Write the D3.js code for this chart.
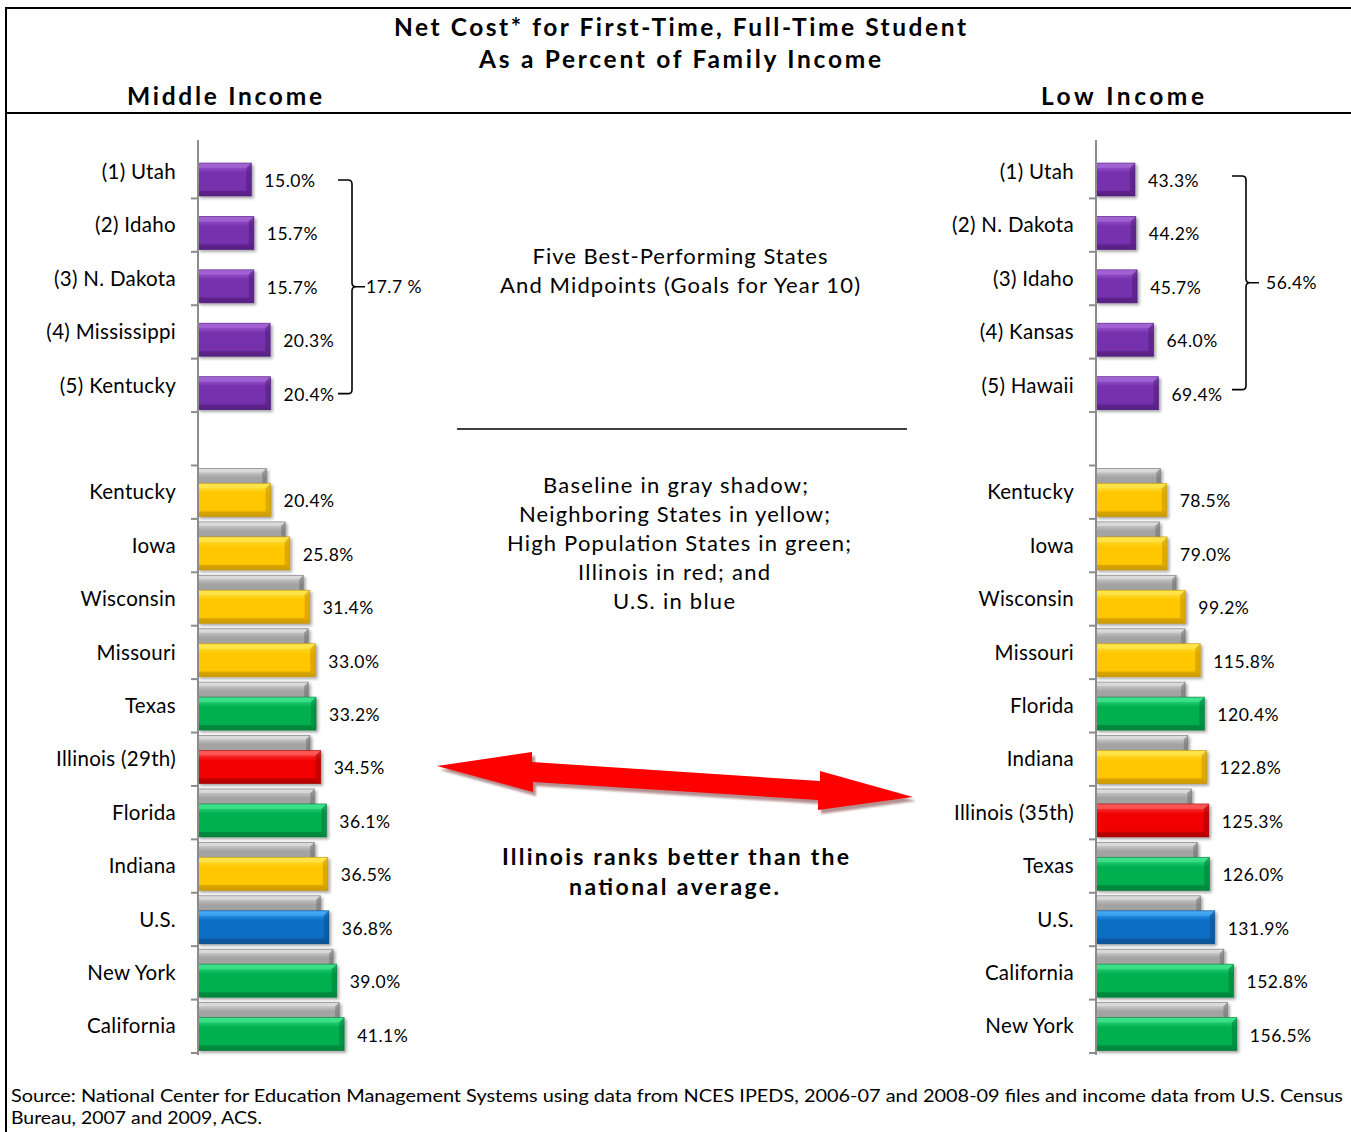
<!DOCTYPE html>
<html>
<head>
<meta charset="utf-8">
<script src="https://cdn.jsdelivr.net/npm/d3@7"></script>
<style>
  html, body { margin: 0; padding: 0; background: #fff; }
  svg { display: block; }
  text { font-family: Lato, "Open Sans", sans-serif; fill: #000; }
</style>
</head>
<body>
<script>
// ---------------- DATA ----------------
const titleLines = ["Net Cost* for First-Time, Full-Time Student", "As a Percent of Family Income"];
const panelTitles = ["Middle Income", "Low Income"];

// Middle income
const midTopStates = ["(1) Utah", "(2) Idaho", "(3) N. Dakota", "(4) Mississippi", "(5) Kentucky"];
const midTopValues = [15.0, 15.7, 15.7, 20.3, 20.4];
const midTopMidpoint = 17.7;
const midStates = ["Kentucky", "Iowa", "Wisconsin", "Missouri", "Texas", "Illinois (29th)", "Florida", "Indiana", "U.S.", "New York", "California"];
const midValues = [20.4, 25.8, 31.4, 33.0, 33.2, 34.5, 36.1, 36.5, 36.8, 39.0, 41.1];
const midBaseline = [19.2, 24.5, 29.6, 31.0, 31.0, 31.5, 32.7, 32.7, 34.4, 38.0, 39.7];
const midGroups = ["neighbor", "neighbor", "neighbor", "neighbor", "highpop", "illinois", "highpop", "neighbor", "us", "highpop", "highpop"];

// Low income
const lowTopStates = ["(1) Utah", "(2) N. Dakota", "(3) Idaho", "(4) Kansas", "(5) Hawaii"];
const lowTopValues = [43.3, 44.2, 45.7, 64.0, 69.4];
const lowTopMidpoint = 56.4;
const lowStates = ["Kentucky", "Iowa", "Wisconsin", "Missouri", "Florida", "Indiana", "Illinois (35th)", "Texas", "U.S.", "California", "New York"];
const lowValues = [78.5, 79.0, 99.2, 115.8, 120.4, 122.8, 125.3, 126.0, 131.9, 152.8, 156.5];
const lowBaseline = [71.5, 70.4, 89.0, 99.0, 99.0, 102.0, 106.0, 112.5, 116.0, 142.0, 146.0];
const lowGroups = ["neighbor", "neighbor", "neighbor", "neighbor", "highpop", "neighbor", "illinois", "highpop", "us", "highpop", "highpop"];

const noteTop = ["Five Best-Performing States", "And Midpoints (Goals for Year 10)"];
const noteLegend = ["Baseline in gray shadow;", "Neighboring States in yellow;", "High Population States in green;", "Illinois in red; and", "U.S. in blue"];
const noteIllinois = ["Illinois ranks better than the", "national average."];
const sourceLines = ["Source:  National Center for Education Management Systems using data from NCES IPEDS, 2006-07 and 2008-09 files and income data from U.S. Census", "Bureau, 2007 and 2009, ACS."];

// ---------------- STYLE ----------------
const palette = {
  best:     { base: "#7630ad", light: "#a465d6", dark: "#4c1a73" },
  neighbor: { base: "#ffc700", light: "#ffe64d", dark: "#c08e00" },
  highpop:  { base: "#00b050", light: "#3fe38c", dark: "#007535" },
  illinois: { base: "#f00000", light: "#ff5a5a", dark: "#9c0000" },
  us:       { base: "#0a6ec6", light: "#45a8f2", dark: "#054785" },
  base:     { base: "#a3a3a3", light: "#dcdcdc", dark: "#6a6a6a" }
};

const W = 1351, H = 1132;
const svg = d3.select("body").append("svg").attr("width", W).attr("height", H);
const defs = svg.append("defs");

const f = defs.append("filter").attr("id", "shadow").attr("x", "-10%").attr("y", "-20%").attr("width", "130%").attr("height", "160%");
f.append("feDropShadow").attr("dx", 2).attr("dy", 2).attr("stdDeviation", 1.5).attr("flood-color", "#000").attr("flood-opacity", 0.35);
const f2 = defs.append("filter").attr("id", "arrowShadow").attr("x", "-10%").attr("y", "-50%").attr("width", "130%").attr("height", "250%");
f2.append("feGaussianBlur").attr("stdDeviation", 1.2);

Object.entries(palette).forEach(([k, c]) => {
  const g = defs.append("linearGradient").attr("id", "grad-" + k).attr("x1", 0).attr("y1", 0).attr("x2", 0).attr("y2", 1);
  g.append("stop").attr("offset", "0%").attr("stop-color", c.light);
  g.append("stop").attr("offset", "30%").attr("stop-color", c.base);
  g.append("stop").attr("offset", "80%").attr("stop-color", c.base);
  g.append("stop").attr("offset", "100%").attr("stop-color", d3.color(c.base).darker(0.4));
});

// ---------------- FRAME ----------------
svg.append("rect").attr("x", 6).attr("y", 8).attr("width", W + 10).attr("height", H + 10)
  .attr("fill", "none").attr("stroke", "#000").attr("stroke-width", 2);
svg.append("line").attr("x1", 6).attr("x2", W).attr("y1", 113).attr("y2", 113)
  .attr("stroke", "#000").attr("stroke-width", 2);

// Titles
svg.append("text").attr("x", 680).attr("y", 36).attr("text-anchor", "middle")
  .attr("font-weight", "bold").attr("font-size", 24.5).attr("textLength", 572).attr("lengthAdjust", "spacing").text(titleLines[0]);
svg.append("text").attr("x", 680).attr("y", 68).attr("text-anchor", "middle")
  .attr("font-weight", "bold").attr("font-size", 24.5).attr("textLength", 402).attr("lengthAdjust", "spacing").text(titleLines[1]);
svg.append("text").attr("x", 224.5).attr("y", 105).attr("text-anchor", "middle")
  .attr("font-weight", "bold").attr("font-size", 24.5).attr("textLength", 195).attr("lengthAdjust", "spacing").text(panelTitles[0]);
svg.append("text").attr("x", 1122.5).attr("y", 105).attr("text-anchor", "middle")
  .attr("font-weight", "bold").attr("font-size", 24.5).attr("textLength", 163).attr("lengthAdjust", "spacing").text(panelTitles[1]);

// ---------------- PANELS ----------------
function bevelBar(g, x0, x1, y, h, key, b) {
  const c = palette[key];
  const w = x1 - x0;
  if (w <= 0) return;
  const grp = g.append("g").attr("filter", "url(#shadow)");
  grp.append("rect").attr("x", x0).attr("y", y).attr("width", w).attr("height", h)
    .attr("fill", "url(#grad-" + key + ")");
  grp.append("path").attr("d", `M${x0},${y}L${x1},${y}L${x1 - b},${y + b}L${x0},${y + b}Z`)
    .attr("fill", c.light).attr("opacity", 0.75);
  grp.append("path").attr("d", `M${x0},${y + h - b}L${x1 - b},${y + h - b}L${x1},${y + h}L${x0},${y + h}Z`)
    .attr("fill", c.dark).attr("opacity", 0.55);
  grp.append("path").attr("d", `M${x1 - b},${y + b}L${x1},${y}L${x1},${y + h}L${x1 - b},${y + h - b}Z`)
    .attr("fill", c.dark).attr("opacity", 0.5);
  grp.append("rect").attr("x", x0).attr("y", y).attr("width", w).attr("height", h)
    .attr("fill", "none").attr("stroke", c.dark).attr("stroke-width", 0.8).attr("stroke-opacity", 0.7);
}

function drawPanel(opt) {
  const rows = [];
  opt.topStates.forEach((s, i) => rows.push({ key: "t" + i, label: s, value: opt.topValues[i], group: "best", baseline: null }));
  rows.push({ key: "gap", label: "", value: null });
  opt.states.forEach((s, i) => rows.push({ key: "b" + i, label: s, value: opt.values[i], group: opt.groups[i], baseline: opt.baseline[i] }));

  const y = d3.scaleBand().domain(rows.map(r => r.key)).range([145, 1053]).padding(0);
  const x = d3.scaleLinear().domain(opt.domain).range(opt.range);
  const g = svg.append("g");
  const bw = y.bandwidth();

  rows.filter(r => r.baseline != null).forEach(r => {
    bevelBar(g, x(0), x(r.baseline), y(r.key) + 3, 30, "base", 4);
  });
  rows.filter(r => r.value != null).forEach(r => {
    bevelBar(g, x(0), x(r.value), y(r.key) + 18, 33, r.group, 5);
  });
  rows.filter(r => r.value != null).forEach(r => {
    g.append("text").attr("x", x(r.value) + 13).attr("y", y(r.key) + 37.5)
      .attr("dominant-baseline", "middle").attr("font-size", 17.5).attr("letter-spacing", 0.5)
      .text(r.value.toFixed(1) + "%");
  });

  const axis = d3.axisLeft(y).tickSize(0).tickFormat(k => rows.find(r => r.key === k).label);
  const ax = g.append("g").attr("transform", `translate(${opt.range[0]},0)`).call(axis);
  ax.select(".domain").remove();
  ax.selectAll(".tick text").attr("x", opt.labelX - opt.range[0]).attr("dy", "0.35em")
    .attr("font-family", "Lato, 'Open Sans', sans-serif").attr("font-size", 20.5).attr("fill", "#000")
    .attr("letter-spacing", 0.3);
  g.append("line").attr("x1", opt.range[0]).attr("x2", opt.range[0]).attr("y1", 140).attr("y2", 1055)
    .attr("stroke", "#8c8c8c").attr("stroke-width", 2);
  rows.map(r => y(r.key) + bw).forEach(b => {
    g.append("line").attr("x1", opt.range[0] - 7).attr("x2", opt.range[0]).attr("y1", b).attr("y2", b)
      .attr("stroke", "#8c8c8c").attr("stroke-width", 2);
  });

  const yTop = y("t0") + 35 - (opt.bracketLift || 0);
  const yBot = y("t4") + 35 - (opt.bracketLift || 0);
  const yMid = (yTop + yBot) / 2;
  const bx = opt.bracketX, bl = opt.bracketStart, r = 4;
  g.append("path")
    .attr("d", `M${bl},${yTop}L${bx - r},${yTop}Q${bx},${yTop} ${bx},${yTop + r}L${bx},${yMid - r}Q${bx},${yMid} ${bx + r},${yMid}L${opt.tickEnd},${yMid}` +
      `M${bx + r},${yMid}Q${bx},${yMid} ${bx},${yMid + r}L${bx},${yBot - r}Q${bx},${yBot} ${bx - r},${yBot}L${bl},${yBot}`)
    .attr("fill", "none").attr("stroke", "#000").attr("stroke-width", 1.6);
  g.append("text").attr("x", opt.midTextX).attr("y", yMid + 2).attr("dominant-baseline", "middle")
    .attr("font-size", 17.5).attr("letter-spacing", 0.5).text(opt.midText);
}

drawPanel({
  topStates: midTopStates, topValues: midTopValues,
  states: midStates, values: midValues, baseline: midBaseline, groups: midGroups,
  domain: [0, 45], range: [198, 358], labelX: 176,
  bracketX: 352, bracketStart: 338, tickEnd: 365, midTextX: 366, midText: midTopMidpoint.toFixed(1) + " %"
});
drawPanel({
  topStates: lowTopStates, topValues: lowTopValues,
  states: lowStates, values: lowValues, baseline: lowBaseline, groups: lowGroups,
  domain: [0, 160], range: [1096, 1240], labelX: 1074, bracketLift: 4,
  bracketX: 1246, bracketStart: 1232, tickEnd: 1259, midTextX: 1266, midText: lowTopMidpoint.toFixed(1) + "%"
});

// ---------------- CENTER NOTES ----------------
const noteG = svg.append("g");
const topNoteLens = [295, 360];
noteTop.forEach((t, i) => {
  noteG.append("text").attr("x", 680).attr("y", 258 + i * 29).attr("dominant-baseline", "middle")
    .attr("text-anchor", "middle").attr("font-size", 22).attr("textLength", topNoteLens[i]).attr("lengthAdjust", "spacing").text(t);
});
noteG.append("line").attr("x1", 457).attr("x2", 907).attr("y1", 429).attr("y2", 429)
  .attr("stroke", "#000").attr("stroke-width", 1.6);
const legendLens = [265, 311, 344, 192, 122];
const legendCx = [675.5, 674.5, 679, 674, 674];
noteLegend.forEach((t, i) => {
  noteG.append("text").attr("x", legendCx[i]).attr("y", 487 + i * 29).attr("dominant-baseline", "middle")
    .attr("text-anchor", "middle").attr("font-size", 22).attr("textLength", legendLens[i]).attr("lengthAdjust", "spacing").text(t);
});
const illLens = [347, 210];
const illCx = [675.5, 674];
noteIllinois.forEach((t, i) => {
  noteG.append("text").attr("x", illCx[i]).attr("y", 859 + i * 30).attr("dominant-baseline", "middle")
    .attr("text-anchor", "middle").attr("font-size", 23).attr("font-weight", "bold").attr("textLength", illLens[i]).attr("lengthAdjust", "spacing").text(t);
});

// double-headed arrow
const arrowPts = [[437, 766], [532, 752], [532, 762], [820, 781], [820, 771], [913, 797], [818, 810], [818, 800], [533, 782], [533, 792]];
const arrowPath = "M" + arrowPts.map(p => p.join(",")).join("L") + "Z";
noteG.append("path").attr("d", arrowPath).attr("transform", "translate(3,4)")
  .attr("fill", "#9c6a6a").attr("opacity", 0.75).attr("filter", "url(#arrowShadow)");
noteG.append("path").attr("d", arrowPath).attr("fill", "#ff0000");

// source
const srcLens = [1332, 251];
const srcY = [1098, 1120];
sourceLines.forEach((t, i) => {
  svg.append("text").attr("x", 11).attr("y", srcY[i]).attr("dominant-baseline", "middle")
    .attr("font-size", 17).attr("textLength", srcLens[i]).attr("lengthAdjust", "spacingAndGlyphs").text(t);
});
</script>
</body>
</html>
